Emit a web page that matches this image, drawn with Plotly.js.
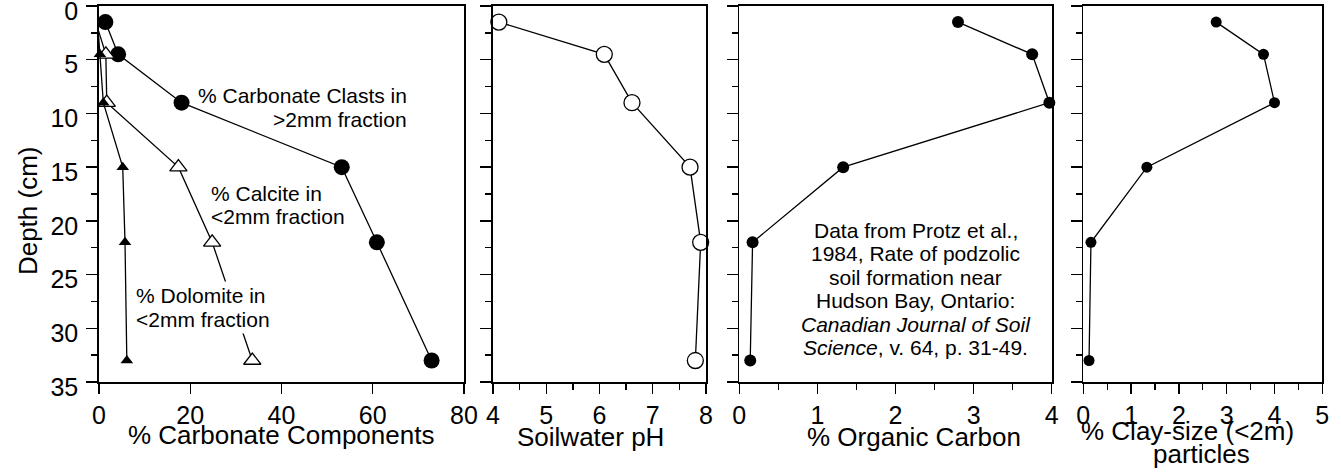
<!DOCTYPE html>
<html>
<head>
<meta charset="utf-8">
<script src="https://cdn.plot.ly/plotly-3.0.1.min.js"></script>
<style>html,body{margin:0;padding:0;background:#fff;}#chart{width:1341px;height:474px;}</style>
</head>
<body>
<div id="chart"></div>
<script>
// Depths of samples (cm)
var depth = [1.5, 4.5, 9, 15, 22, 33];
// Panel 1: % carbonate components
var clasts = [1.4, 4.2, 18.1, 53.2, 60.9, 72.9];
var calcite = [-0.7, 1.5, 1.7, 17.4, 24.8, 33.6];
var dolomite = [-0.3, 0.2, 0.95, 5.2, 5.7, 6.1];
// Panel 2: soilwater pH
var ph = [4.11, 6.09, 6.61, 7.70, 7.90, 7.80];
// Panel 3: % organic carbon
var orgC = [2.80, 3.75, 3.97, 1.33, 0.17, 0.14];
// Panel 4: % clay-size particles
var clay = [2.78, 3.77, 4.0, 1.33, 0.16, 0.12];

var W = 1341, H = 474;
function P(px){return px / W;}
function Q(py){return 1 - py / H;}
var FONT = 'Liberation Sans, Arial, Helvetica, sans-serif';

var lineStyle = {color: 'black', width: 1.3};
var traces = [
  {x: clasts, y: depth, xaxis: 'x', yaxis: 'y', mode: 'lines+markers', cliponaxis: false,
   line: lineStyle, marker: {symbol: 'circle', size: 16, color: 'black'}},
  {x: calcite, y: depth, xaxis: 'x', yaxis: 'y', mode: 'lines+markers', cliponaxis: false,
   line: lineStyle, marker: {symbol: 'triangle-up', size: 15, color: 'white', line: {color: 'black', width: 1.3}}},
  {x: dolomite, y: depth, xaxis: 'x', yaxis: 'y', mode: 'lines+markers', cliponaxis: false,
   line: lineStyle, marker: {symbol: 'triangle-up', size: 11, color: 'black'}},
  {x: ph, y: depth, xaxis: 'x2', yaxis: 'y2', mode: 'lines+markers', cliponaxis: false,
   line: lineStyle, marker: {symbol: 'circle', size: 16, color: 'white', line: {color: 'black', width: 1.3}}},
  {x: orgC, y: depth, xaxis: 'x3', yaxis: 'y3', mode: 'lines+markers', cliponaxis: false,
   line: lineStyle, marker: {symbol: 'circle', size: 12, color: 'black'}},
  {x: clay, y: depth, xaxis: 'x4', yaxis: 'y4', mode: 'lines+markers', cliponaxis: false,
   line: lineStyle, marker: {symbol: 'circle', size: 11, color: 'black'}}
];

var yDom = [Q(382), Q(6)];
function yAx(anchor, labels){
  return {domain: yDom, anchor: anchor, range: [35, 0], autorange: false,
    tick0: 0, dtick: 5, ticks: 'outside', ticklen: 11, tickwidth: 1.3, tickcolor: 'black',
    minor: {dtick: 2.5, ticks: 'outside', ticklen: 6, tickwidth: 1.3, tickcolor: 'black', showgrid: false},
    showline: true, linecolor: 'black', linewidth: 1.8, mirror: true,
    showgrid: false, zeroline: false, showticklabels: labels,
    ticklabeloverflow: 'allow', ticklabelshift: -5,
    tickfont: {family: FONT, size: 25, color: 'black'}, ticklabelstandoff: 3};
}
function xAx(dom, anchor, range, dtick, minor){
  var a = {domain: dom, anchor: anchor, range: range, autorange: false,
    tick0: range[0], dtick: dtick, ticks: 'outside', ticklen: 10, tickwidth: 1.3, tickcolor: 'black',
    showline: true, linecolor: 'black', linewidth: 1.8, mirror: true,
    showgrid: false, zeroline: false, ticklabeloverflow: 'allow',
    tickfont: {family: FONT, size: 25, color: 'black'}};
  if (minor) a.minor = {dtick: minor, ticks: 'outside', ticklen: 6, tickwidth: 1.3, tickcolor: 'black', showgrid: false};
  return a;
}

function ann(text, px, py, size, xanchor, extra){
  var a = {text: text, xref: 'paper', yref: 'paper', x: P(px), y: Q(py),
    xanchor: xanchor || 'center', yanchor: 'middle', showarrow: false,
    font: {family: FONT, size: size, color: 'black'}};
  if (extra) for (var k in extra) a[k] = extra[k];
  return a;
}

var annotations = [
  ann('Depth (cm)', 28.3, 210.8, 26, 'center', {textangle: -90}),
  ann('% Carbonate Components', 280.8, 435, 26),
  ann('Soilwater pH', 590.5, 437, 26),
  ann('% Organic Carbon', 914, 437, 26),
  ann('% Clay-size (<2m)', 1187.5, 431, 26),
  ann('particles', 1201, 454, 26),
  ann('% Carbonate Clasts in', 409.3, 95.8, 21, 'right'),
  ann('>2mm fraction', 409.3, 119.2, 21, 'right'),
  ann('% Calcite in', 209.3, 193.3, 21, 'left'),
  ann('<2mm fraction', 209.3, 216.7, 21, 'left'),
  ann('% Dolomite in', 133.3, 295.8, 21, 'left', {bgcolor: 'white', borderpad: 2}),
  ann('<2mm fraction', 133.3, 319.2, 21, 'left', {bgcolor: 'white', borderpad: 2}),
  ann('Data from Protz et al.,', 916, 230, 21),
  ann('1984, Rate of podzolic', 916, 253.5, 21),
  ann('soil formation near', 916, 277, 21),
  ann('Hudson Bay, Ontario:', 916, 300.5, 21),
  ann('<i>Canadian Journal of Soil</i>', 916, 324, 21),
  ann('<i>Science</i>, v. 64, p. 31-49.', 916, 347.5, 21)
];

var layout = {
  width: W, height: H,
  margin: {l: 0, r: 0, t: 0, b: 0},
  paper_bgcolor: 'white', plot_bgcolor: 'white',
  showlegend: false,
  font: {family: FONT, color: 'black'},
  xaxis: xAx([P(99), P(464)], 'y', [0, 80], 20, null),
  yaxis: yAx('x', true),
  xaxis2: xAx([P(493), P(706)], 'y2', [4, 8], 1, 0.5),
  yaxis2: yAx('x2', false),
  xaxis3: xAx([P(739.3), P(1051.7)], 'y3', [0, 4], 1, 0.5),
  yaxis3: yAx('x3', false),
  xaxis4: xAx([P(1083.3), P(1322.3)], 'y4', [0, 5], 1, 0.5),
  yaxis4: yAx('x4', false),
  annotations: annotations
};

Plotly.newPlot('chart', traces, layout, {displayModeBar: false, staticPlot: true});
</script>
</body>
</html>
